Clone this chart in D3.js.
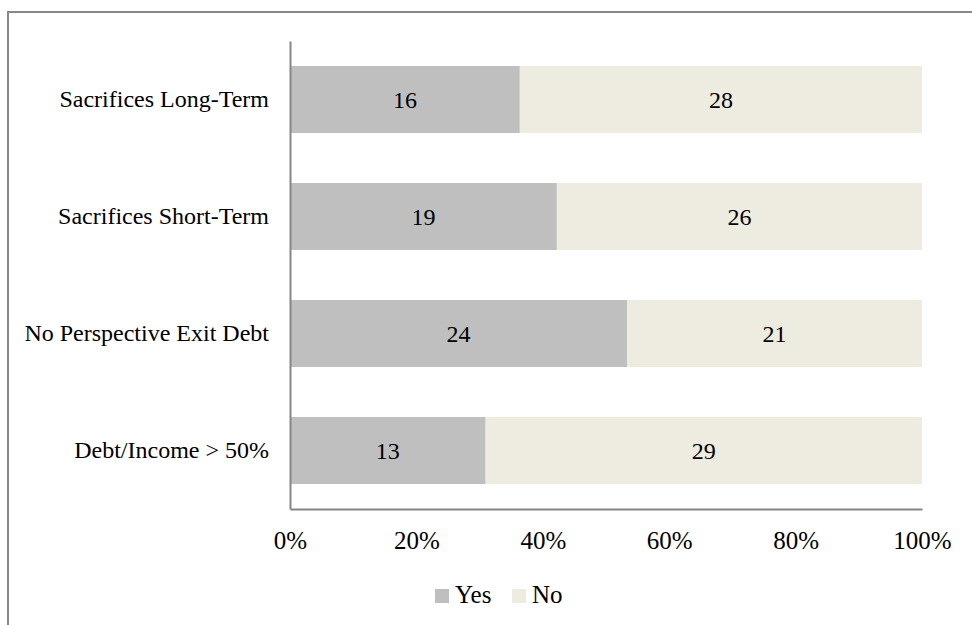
<!DOCTYPE html>
<html><head><meta charset="utf-8">
<script src="https://cdn.jsdelivr.net/npm/d3@7"></script>
<style>html,body{margin:0;padding:0;background:#fff;overflow:hidden}</style>
</head><body>
<svg id="chart" width="972" height="625"></svg>
<script>
const categories = ["Sacrifices Long-Term","Sacrifices Short-Term","No Perspective Exit Debt","Debt/Income > 50%"];
const yesValues = [16,19,24,13];
const noValues = [28,26,21,29];
const seriesNames = ["Yes","No"];
const tickValues = [0,0.2,0.4,0.6,0.8,1.0];

const colors = {Yes:"#BFBFBF", No:"#EEEBE0"};
const font = "'Liberation Serif','Times New Roman',serif";

const svg = d3.select("#chart");
svg.append("rect").attr("x",8).attr("y",12).attr("width",1000).attr("height",700)
  .attr("fill","#fff").attr("stroke","#888").attr("stroke-width",2);

const m = {left:290, right:922, top:41, bottom:509};
const x = d3.scaleLinear().domain([0,1]).range([m.left, m.right]);
const y = d3.scaleBand().domain(categories).range([m.top, m.bottom]).paddingInner(0.427).paddingOuter(0.2135);

const data = categories.map((c,i)=>({cat:c, Yes:yesValues[i], No:noValues[i]}));
const stack = d3.stack().keys(seriesNames).offset(d3.stackOffsetExpand);
const layers = stack(data);

const g = svg.append("g");
layers.forEach(layer=>{
  const key = layer.key;
  g.selectAll(null).data(layer).enter().append("rect")
    .attr("x", d=>x(d[0])).attr("width", d=>x(d[1])-x(d[0]))
    .attr("y", d=>y(d.data.cat)).attr("height", y.bandwidth())
    .attr("fill", colors[key]);
  g.selectAll(null).data(layer).enter().append("text")
    .attr("x", d=>(x(d[0])+x(d[1]))/2)
    .attr("y", d=>y(d.data.cat)+y.bandwidth()/2)
    .attr("dy","0.35em").attr("text-anchor","middle")
    .attr("font-family",font).attr("font-size",24).attr("fill","#000")
    .text(d=>d.data[key]);
});

// axes
const xAxis = d3.axisBottom(x).tickValues(tickValues).tickSize(0).tickPadding(0).tickFormat(d3.format(".0%"));
const xg = svg.append("g").attr("transform",`translate(0,${m.bottom})`).call(xAxis);
xg.select(".domain").attr("stroke","#868686").attr("stroke-width",2);
xg.selectAll("text").attr("font-family",font).attr("font-size",25).attr("fill","#000").attr("dy",0).attr("y",40);

const yAxis = d3.axisLeft(y).tickSize(0).tickPadding(21);
const yg = svg.append("g").attr("transform",`translate(${m.left},0)`).call(yAxis);
yg.select(".domain").attr("stroke","#868686").attr("stroke-width",2);
yg.selectAll("text").attr("font-family",font).attr("font-size",24).attr("fill","#000");

// legend
const legend = svg.append("g");
const legendItems = [{name:"Yes", x:435},{name:"No", x:512}];
legendItems.forEach(it=>{
  legend.append("rect").attr("x",it.x).attr("y",589).attr("width",14).attr("height",14).attr("fill",colors[it.name]);
  legend.append("text").attr("x",it.x+20).attr("y",603).attr("font-family",font).attr("font-size",25).attr("fill","#000").text(it.name);
});
</script>
</body></html>
